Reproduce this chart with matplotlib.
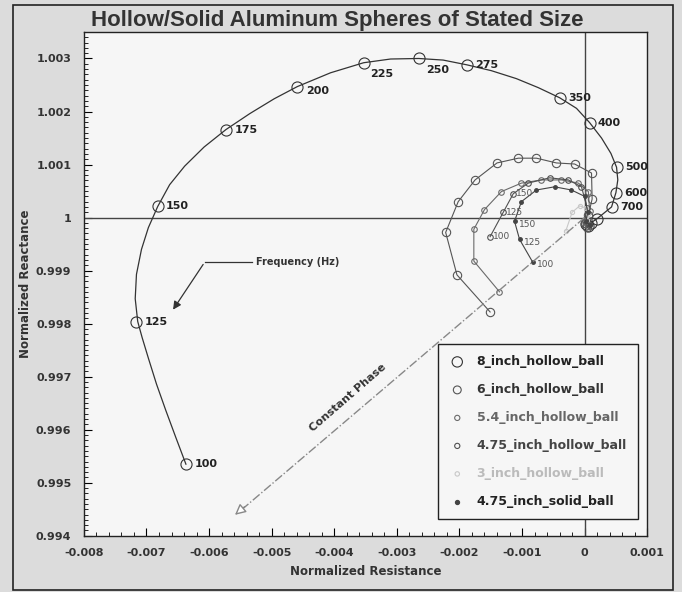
import numpy as np
import matplotlib.pyplot as plt
from matplotlib.patches import Rectangle
from matplotlib.ticker import MultipleLocator, FuncFormatter

plt.rcParams['font.family'] = ['DejaVu Sans']

# 8 inch hollow ball: labelled frequency points
freq_8 = [100, 125, 150, 175, 200, 225, 250, 275, 350, 400, 500, 600, 700]
res_8 = [-0.00637, -0.00716, -0.00682, -0.00573, -0.00459, -0.00353, -0.00265, -0.00188,
         -0.00040, 0.00008, 0.00051, 0.00050, 0.00043]
rea_8 = [0.99535, 0.99804, 1.00021, 1.00166, 1.00247, 1.00292, 1.00300, 1.00288,
         1.00226, 1.00179, 1.00095, 1.00047, 1.00020]
# higher frequencies of the 8 inch ball (unlabelled, in the cluster)
res_8_hi = [0.00020, 0.00010, 0.00005, 0.00002]
rea_8_hi = [0.99998, 0.99990, 0.99985, 0.99988]
# 8 inch curve
curve_8_res = [-0.00637, -0.00653, -0.00669, -0.00684, -0.00697, -0.00707, -0.00714, -0.00718,
               -0.00716, -0.00708, -0.00697, -0.00682, -0.00663, -0.00639, -0.00608, -0.00573,
               -0.00535, -0.00496, -0.00459, -0.00406, -0.00353, -0.00310, -0.00265, -0.00226,
               -0.00188, -0.00149, -0.00109, -0.00074, -0.00040, -0.00013, 0.00008, 0.00027,
               0.00042, 0.00051, 0.00053, 0.00050, 0.00043, 0.00020, 0.00010, 0.00005, 0.00002]
curve_8_rea = [0.99535, 0.99585, 0.99636, 0.99686, 0.99735, 0.99774, 0.99804, 0.99847,
               0.99893, 0.99940, 0.99981, 1.00021, 1.00062, 1.00097, 1.00133, 1.00166,
               1.00196, 1.00224, 1.00247, 1.00273, 1.00292, 1.00299, 1.00300, 1.00297,
               1.00288, 1.00277, 1.00262, 1.00245, 1.00226, 1.00206, 1.00179, 1.00150,
               1.00121, 1.00095, 1.00071, 1.00047, 1.00020, 0.99998, 0.99990, 0.99985, 0.99988]

# 6 inch hollow ball
res_6 = [-0.00151, -0.00204, -0.00222, -0.00202, -0.00175, -0.00140, -0.00106, -0.00077,
         -0.00045, -0.00016, 0.00011, 0.00012, 0.00006, 0.00000, 0.00004]
rea_6 = [0.99822, 0.99892, 0.99972, 1.00030, 1.00071, 1.00103, 1.00112, 1.00112,
         1.00103, 1.00101, 1.00084, 1.00035, 1.00005, 0.99990, 0.99982]

# 5.4 inch hollow ball
res_54 = [-0.00136, -0.00177, -0.00177, -0.00160, -0.00133, -0.00101, -0.00069, -0.00037,
          -0.00010, 0.00006, 0.00008, 0.00001, 0.00006]
rea_54 = [0.99860, 0.99918, 0.99978, 1.00015, 1.00049, 1.00065, 1.00071, 1.00071,
          1.00065, 1.00049, 1.00012, 0.99992, 0.99985]

# 4.75 inch hollow ball
freq_475h = [100, 125, 150]
res_475h = [-0.00151, -0.00130, -0.00114, -0.00090, -0.00056, -0.00026, -0.00005, 0.00004,
            0.00001, 0.00007]
rea_475h = [0.99964, 1.00010, 1.00045, 1.00065, 1.00075, 1.00071, 1.00058, 1.00018,
            0.99995, 0.99988]

# 3 inch hollow ball
res_3 = [-0.00030, -0.00020, -0.00008, 0.00002, 0.00006, 0.00004]
rea_3 = [0.99975, 1.00010, 1.00022, 1.00018, 1.00006, 0.99996]

# 4.75 inch solid ball
freq_475s = [100, 125, 150]
res_475s = [-0.00083, -0.00104, -0.00112, -0.00101, -0.00077, -0.00048, -0.00021, 0.00000,
            0.00005, 0.00002, 0.00008]
rea_475s = [0.99916, 0.99959, 0.99993, 1.00030, 1.00052, 1.00058, 1.00052, 1.00040,
            1.00010, 0.99993, 0.99986]

fig = plt.figure(figsize=(6.82, 5.92), dpi=100, facecolor='#dcdcdc')
ax = fig.add_axes([0.123, 0.095, 0.826, 0.851], facecolor='#f6f6f6')
fig.patches.append(Rectangle((0.019, 0.004), 0.968, 0.988, transform=fig.transFigure,
                             fill=False, edgecolor='#222222', linewidth=1.2))

ax.axhline(1.0, color='#444444', linewidth=1.0)
ax.axvline(0.0, color='#444444', linewidth=1.0)

ax.plot(curve_8_res, curve_8_rea, '-', color='#333333', linewidth=0.9)
ax.plot(res_8 + res_8_hi, rea_8 + rea_8_hi, 'o', markersize=8,
        markerfacecolor='none', markeredgecolor='#333333', markeredgewidth=0.8)
ax.plot(res_6, rea_6, '-', color='#555555', linewidth=0.8, marker='o', markersize=6,
        markerfacecolor='none', markeredgecolor='#555555', markeredgewidth=0.8)
ax.plot(res_54, rea_54, '-', color='#6a6a6a', linewidth=0.8, marker='o', markersize=4,
        markerfacecolor='none', markeredgecolor='#6a6a6a', markeredgewidth=0.8)
ax.plot(res_475h, rea_475h, '-', color='#505050', linewidth=0.8, marker='o', markersize=4,
        markerfacecolor='none', markeredgecolor='#505050', markeredgewidth=0.8)
ax.plot(res_3, rea_3, '-', color='#c8c8c8', linewidth=0.8, marker='o', markersize=3,
        markerfacecolor='none', markeredgecolor='#c8c8c8', markeredgewidth=0.8)
ax.plot(res_475s, rea_475s, '-', color='#444444', linewidth=0.8, marker='o', markersize=2.5,
        markerfacecolor='#444444', markeredgecolor='#444444')

# frequency labels on the 8 inch curve
offsets_8 = [(6, 0), (6, 0), (6, 0), (6, 0), (6, -3), (5, -8), (5, -8), (6, 0),
             (6, 0), (6, 0), (6, 0), (6, 0), (6, 0)]
for f, x, y, off in zip(freq_8, res_8, rea_8, offsets_8):
    ax.annotate(str(f), (x, y), xytext=off, textcoords='offset points', va='center',
                fontsize=8, fontweight='bold', color='#222222')
for f, x, y in zip(freq_475h, res_475h, rea_475h):
    ax.annotate(str(f), (x, y), xytext=(2, 0), textcoords='offset points', va='center',
                fontsize=6.5, color='#555555')
for f, x, y in zip(freq_475s, res_475s, rea_475s):
    ax.annotate(str(f), (x, y), xytext=(3, -2), textcoords='offset points', va='center',
                fontsize=6.5, color='#555555')

# Frequency (Hz) pointer
ax.plot([-0.00607, -0.00531], [0.99916, 0.99916], color='#333333', linewidth=0.9)
ax.annotate('', xy=(-0.00660, 0.99822), xytext=(-0.00607, 0.99916),
            arrowprops=dict(arrowstyle='-|>', color='#333333', linewidth=0.9, mutation_scale=12))
ax.text(-0.00525, 0.99916, 'Frequency (Hz)', fontsize=7, fontweight='bold',
        color='#333333', va='center', ha='left')

# Constant Phase line
ax.plot([0.0, -0.00555], [1.0, 0.99442], linestyle='-.', color='#888888', linewidth=1.0)
ax.annotate('', xy=(-0.00562, 0.99436), xytext=(-0.00540, 0.99458),
            arrowprops=dict(arrowstyle='-|>', facecolor='white', edgecolor='#888888',
                            linewidth=1.0, mutation_scale=16))
ax.text(-0.00378, 0.99660, 'Constant Phase', fontsize=8, fontweight='bold', color='#333333',
        rotation=41, ha='center', va='center')

ax.set_xlim(-0.008, 0.001)
ax.set_ylim(0.994, 1.0035)
ax.xaxis.set_major_locator(MultipleLocator(0.001))
ax.xaxis.set_minor_locator(MultipleLocator(0.0002))
ax.yaxis.set_major_locator(MultipleLocator(0.001))
ax.yaxis.set_minor_locator(MultipleLocator(0.0001))
fmt = FuncFormatter(lambda v, p: '%g' % round(v, 6))
ax.xaxis.set_major_formatter(fmt)
ax.yaxis.set_major_formatter(fmt)
ax.tick_params(which='both', direction='in', top=False, right=False)
ax.tick_params(which='major', length=6, labelsize=8, pad=9)
ax.tick_params(which='minor', length=3)
for lab in ax.get_xticklabels() + ax.get_yticklabels():
    lab.set_fontweight('bold')
    lab.set_color('#333333')
for s in ax.spines.values():
    s.set_color('#222222')
    s.set_linewidth(1.0)

ax.set_xlabel('Normalized Resistance', fontsize=8.5, fontweight='bold', color='#333333', labelpad=5)
ax.set_ylabel('Normalized Reactance', fontsize=8.5, fontweight='bold', color='#333333', labelpad=3)
fig.suptitle('Hollow/Solid Aluminum Spheres of Stated Size', x=0.495, y=0.983,
             fontsize=16, fontweight='bold', color='#333333', va='top',
             family='Liberation Sans')

# legend
handles = [
    ax.scatter([], [], s=55, facecolors='none', edgecolors='#333333', linewidths=0.8),
    ax.scatter([], [], s=32, facecolors='none', edgecolors='#555555', linewidths=0.8),
    ax.scatter([], [], s=14, facecolors='none', edgecolors='#6a6a6a', linewidths=0.8),
    ax.scatter([], [], s=14, facecolors='none', edgecolors='#505050', linewidths=0.8),
    ax.scatter([], [], s=10, facecolors='none', edgecolors='#c8c8c8', linewidths=0.8),
    ax.scatter([], [], s=8, facecolors='#444444', edgecolors='#444444'),
]
names = ['8_inch_hollow_ball', '6_inch_hollow_ball', '5.4_inch_hollow_ball',
         '4.75_inch_hollow_ball', '3_inch_hollow_ball', '4.75_inch_solid_ball']
leg = ax.legend(handles, names, loc='lower right', bbox_to_anchor=(0.995, 0.02),
                frameon=True, fancybox=False, edgecolor='#222222', facecolor='#f6f6f6',
                framealpha=1, labelspacing=1.2, borderpad=0.9, handlelength=1.3,
                handletextpad=0.9, prop={'weight': 'bold', 'size': 9})
leg.get_frame().set_linewidth(1.0)
text_colors = ['#222222', '#333333', '#666666', '#444444', '#bbbbbb', '#222222']
for t, c in zip(leg.get_texts(), text_colors):
    t.set_color(c)

fig.savefig('out.png', dpi=100, facecolor=fig.get_facecolor())
